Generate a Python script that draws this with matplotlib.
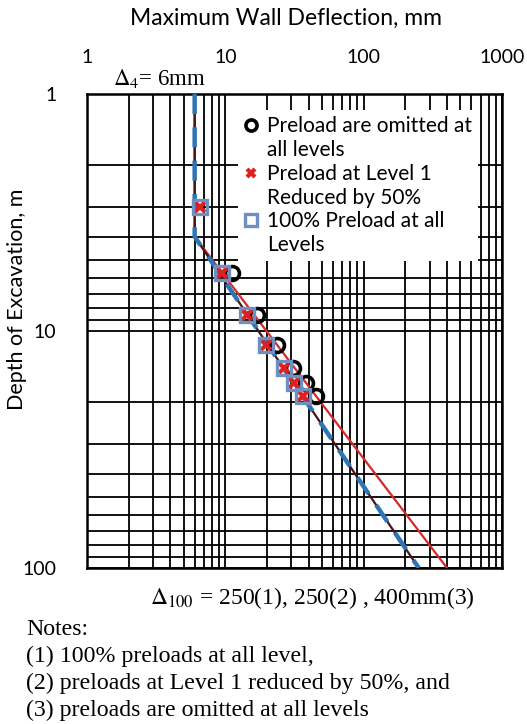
import matplotlib
matplotlib.use("Agg")
import matplotlib.pyplot as plt
from matplotlib.lines import Line2D
from matplotlib.ticker import LogLocator, NullFormatter, FixedLocator, FixedFormatter

plt.rcParams['mathtext.fontset'] = 'stix'

# Measured maximum wall deflection (mm) against excavation depth (m)
depth_full = [3.0, 5.7, 8.6, 11.5, 14.3, 16.6, 18.8]
defl_full = [6.6, 9.5, 14.4, 19.7, 26.6, 31.4, 36.5]

depth_half = [3.0, 5.7, 8.6, 11.5, 14.3, 16.6, 18.8]
defl_half = [6.6, 9.5, 14.4, 19.7, 26.6, 31.4, 36.5]

depth_none = [5.7, 8.6, 11.5, 14.3, 16.6, 18.8]
defl_none = [11.2, 16.9, 23.6, 30.9, 38.3, 45.3]

# Envelope lines: constant deflection down to 4 m, then straight in log space to 100 m
env_depth = [1, 4, 100]
env_full = [6, 6, 250]
env_half = [6, 6, 250]
env_none = [6, 6, 400]

x_ticks = [1, 10, 100, 1000]
y_ticks = [1, 10, 100]

series_labels = [('Preload are omitted at', 'all levels'),
                 ('Preload at Level 1', 'Reduced by 50%'),
                 ('100% Preload at all', 'Levels')]

fig = plt.figure(figsize=(5.27, 7.24), dpi=100)
ax = fig.add_axes([0.1651, 0.2155, 0.7875, 0.6547])

ax.set_xscale('log')
ax.set_yscale('log')
ax.set_xlim(1, 1000)
ax.set_ylim(100, 1)

ax.xaxis.set_major_locator(FixedLocator(x_ticks))
ax.xaxis.set_major_formatter(FixedFormatter([str(v) for v in x_ticks]))
ax.yaxis.set_major_locator(FixedLocator(y_ticks))
ax.yaxis.set_major_formatter(FixedFormatter([str(v) for v in y_ticks]))
ax.xaxis.set_minor_locator(LogLocator(base=10, subs=range(2, 10)))
ax.yaxis.set_minor_locator(LogLocator(base=10, subs=range(2, 10)))
ax.xaxis.set_minor_formatter(NullFormatter())
ax.yaxis.set_minor_formatter(NullFormatter())

ax.xaxis.tick_top()
ax.tick_params(axis='both', which='both', length=0)
ax.tick_params(axis='x', which='major', pad=20, labelsize=14)
ax.tick_params(axis='y', which='major', pad=22, labelsize=14)
for lab in ax.get_xticklabels() + ax.get_yticklabels():
    lab.set_fontfamily('Lato')

ax.grid(True, which='both', color='black', linewidth=1.3)
ax.set_axisbelow(True)
for sp in ax.spines.values():
    sp.set_linewidth(1.8)

ax.plot(env_none, env_depth, color='#d42a2a', lw=1.6, zorder=3)
ax.plot(env_half, env_depth, color='#4a1414', lw=1.6, zorder=3)
ax.plot(env_full, env_depth, color='#2e75b6', lw=3.2, dashes=(4.5, 3), zorder=4)

h_none, = ax.plot(defl_none, depth_none, 'o', ms=10, mfc='none', mec='black',
                  mew=2.6, zorder=5)
h_half, = ax.plot(defl_half, depth_half, 'x', ms=7.5, color='#e02020', mew=3,
                  zorder=6)
h_full, = ax.plot(defl_full, depth_full, 's', ms=10.5, mfc='none', mec='#6f8fc0',
                  mew=2.4, zorder=7)

# Each legend label wraps onto a second line; the marker sits beside the first line
handles, labels = [], []
for h, (first, second) in zip([h_none, h_half, h_full], series_labels):
    handles += [h, Line2D([], [], linestyle='none')]
    labels += [first, second]

leg = ax.legend(handles, labels, loc='upper left', bbox_to_anchor=(0.364, 0.966),
                frameon=True, fancybox=False, framealpha=1, edgecolor='none',
                facecolor='white', prop={'family': 'Lato', 'size': 15},
                handlelength=0.6, handletextpad=0.5, labelspacing=0.18,
                borderpad=0.3, borderaxespad=0, markerscale=0.8)
leg.set_zorder(10)

fig.text(0.543, 0.975, 'Maximum Wall Deflection, mm', ha='center', va='center',
         fontsize=16.5, family='Lato')
fig.text(0.033, 0.586, 'Depth of Excavation, m', rotation=90, ha='center',
         va='center', fontsize=15.5, family='Lato')

serif = 'Liberation Serif'
fig.text(0.214, 0.892, r'$\Delta_4$= 6mm', fontsize=16.5, family=serif,
         ha='left', va='center')
fig.text(0.285, 0.174, r'$\Delta_{100}$ = 250(1), 250(2) , 400mm(3)',
         fontsize=17, family=serif, ha='left', va='center')

notes = ['Notes:',
         '(1) 100% preloads at all level,',
         '(2) preloads at Level 1 reduced by 50%, and',
         '(3) preloads are omitted at all levels']
for i, line in enumerate(notes):
    fig.text(0.05, 0.130 - i * 0.0369, line, fontsize=17.2, family=serif,
             ha='left', va='center')

fig.savefig('out.png', dpi=100)
